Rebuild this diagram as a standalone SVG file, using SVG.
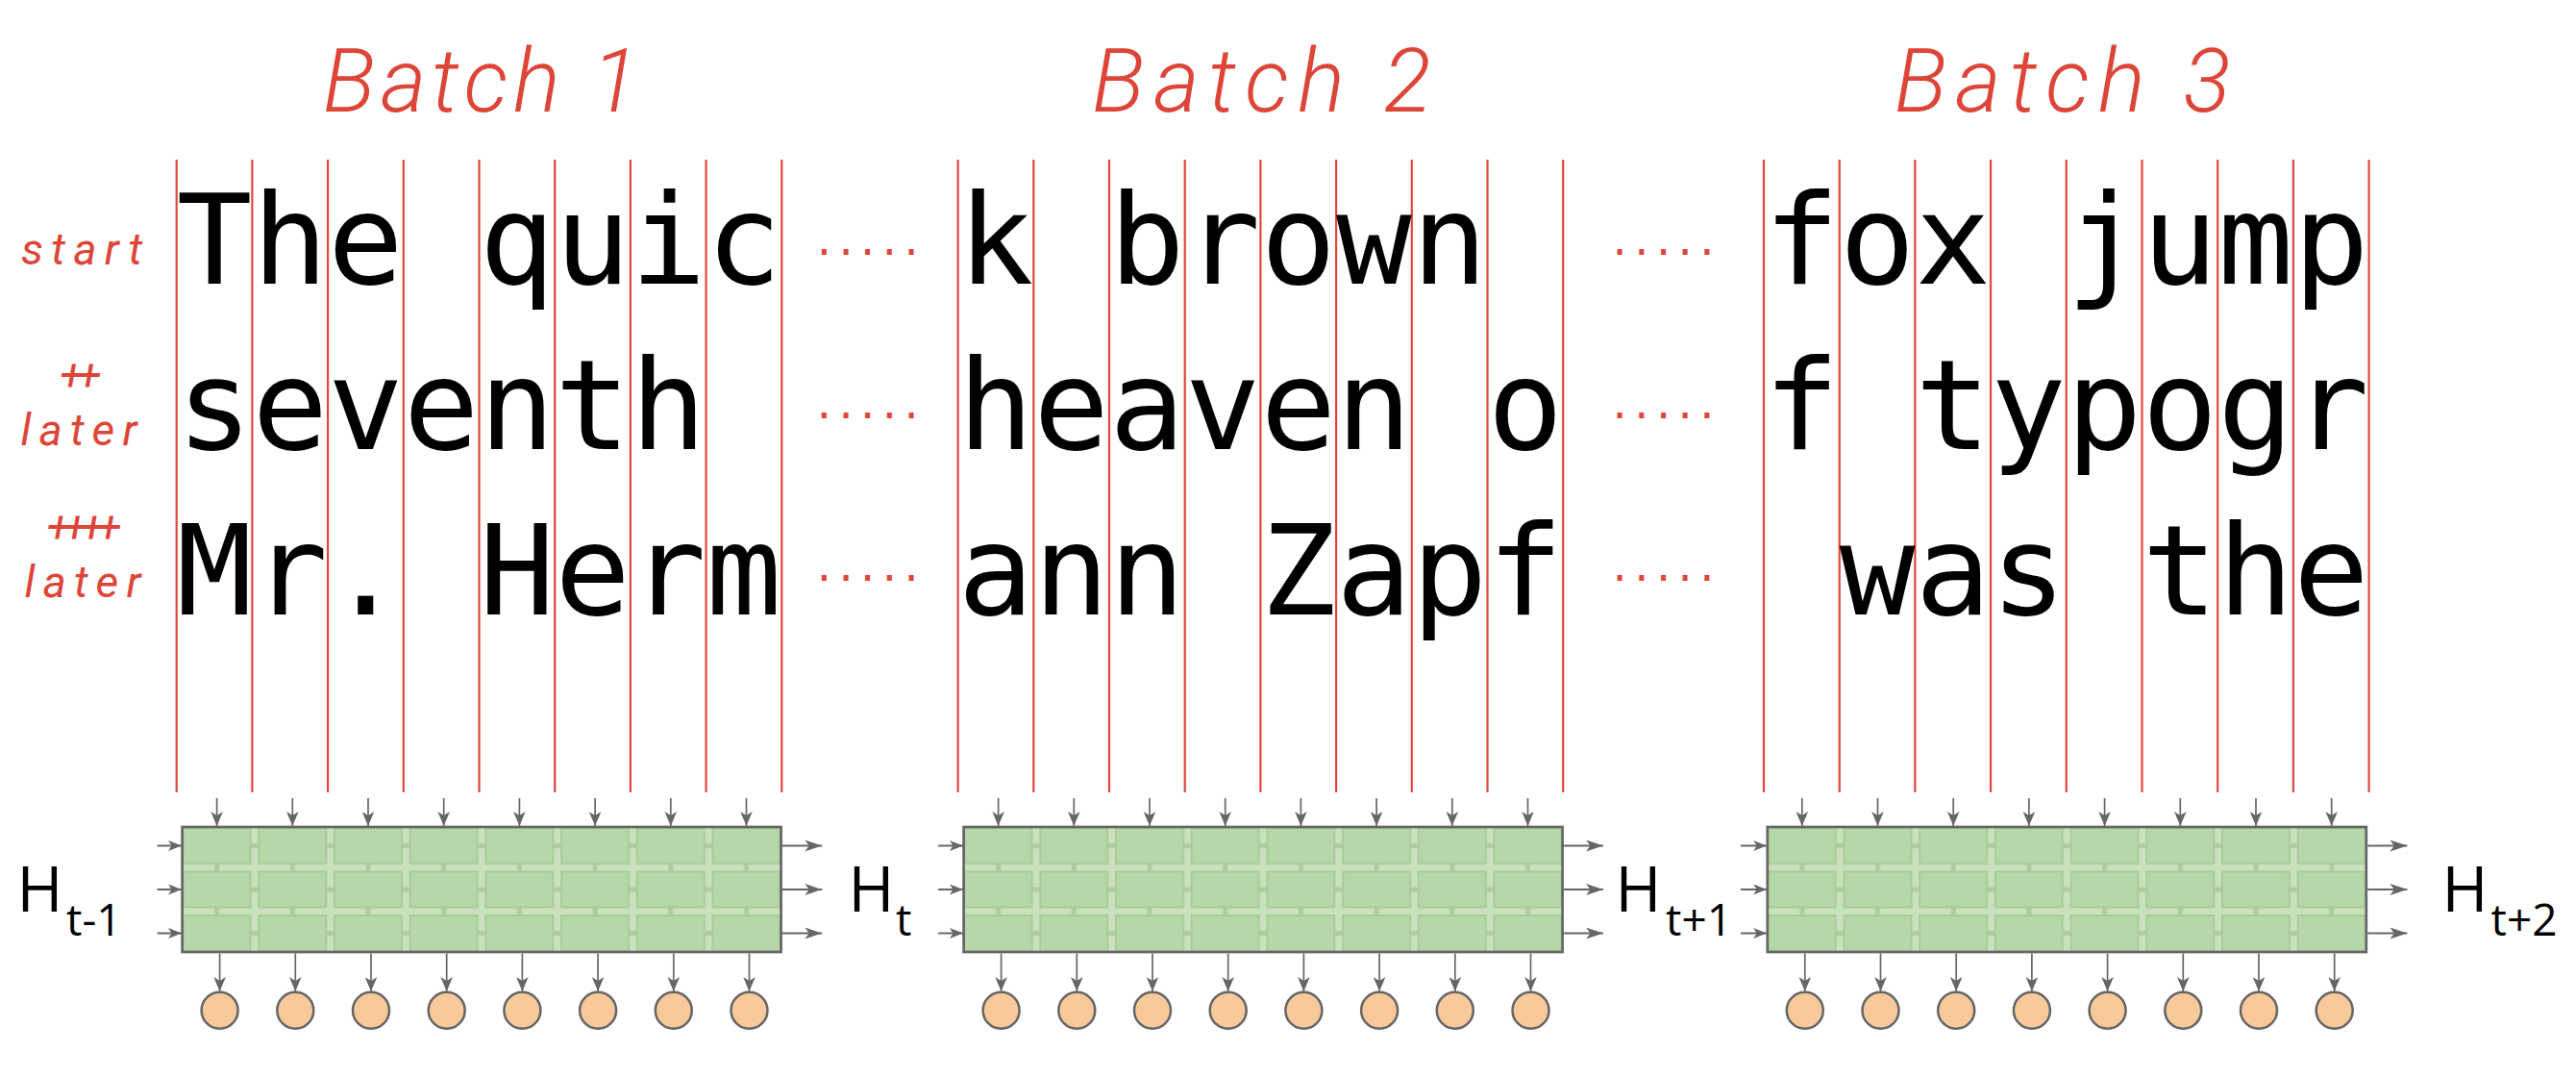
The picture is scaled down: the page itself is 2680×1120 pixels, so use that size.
<svg xmlns="http://www.w3.org/2000/svg" width="2680" height="1120" viewBox="0 0 2680 1120">
<style>
.hand{font-family:Roboto,"Liberation Sans",sans-serif;font-style:italic;font-weight:300;fill:#dd4538}
.small{font-weight:400}
.mono{font-family:"DejaVu Sans Mono","Liberation Mono",monospace;font-size:130.7px;fill:#000}
.col{stroke:#e2463c;stroke-width:2.2}
.dots{font-family:"DejaVu Sans",sans-serif;font-size:48px;fill:#e0453a;letter-spacing:7.4px}
.hl{font-family:"Open Sans","Liberation Sans",sans-serif;fill:#000}
.box{stroke:#666;stroke-width:2.7}
.out{fill:#f8c99a;stroke:#666;stroke-width:2.5}
.av{stroke:#666;stroke-width:1.7;marker-end:url(#ahs)}
.ah{stroke:#666;stroke-width:2;marker-end:url(#ahm)}
.ar{stroke:#666;stroke-width:2.2;marker-end:url(#ahl)}
</style>
<defs>
<marker id="ahs" viewBox="0 0 15 12.6" refX="15" refY="6.3" markerWidth="15" markerHeight="12.6" markerUnits="userSpaceOnUse" orient="auto"><path d="M0,0 L15,6.3 L0,12.6 L4,6.3 z" fill="#666"/></marker>
<marker id="ahm" viewBox="0 0 14 11" refX="14" refY="5.5" markerWidth="14" markerHeight="11" markerUnits="userSpaceOnUse" orient="auto"><path d="M0,0 L14,5.5 L0,11 L3.5,5.5 z" fill="#666"/></marker>
<marker id="ahl" viewBox="0 0 18 12" refX="18" refY="6" markerWidth="18" markerHeight="12" markerUnits="userSpaceOnUse" orient="auto"><path d="M0,0 L18,6 L0,12 L4.5,6 z" fill="#666"/></marker>
<pattern id="grid" patternUnits="userSpaceOnUse" x="0" y="860" width="78.7" height="45.5">
<rect width="78.7" height="45.5" fill="#c9e2bd"/>
<path d="M36,0 V45.5 M0,19.5 H78.7" stroke="#aecd9f" stroke-width="5"/>
<rect x="1" y="1" width="70" height="37" fill="#b6d7a8" stroke="#aacb9c" stroke-width="2"/>
</pattern>
<pattern id="grid1" href="#grid" x="189.6"/>
<pattern id="grid2" href="#grid" x="1002.6"/>
<pattern id="grid3" href="#grid" x="1838.8"/>
</defs>
<rect width="2680" height="1120" fill="#fff"/>

<g id="batch-labels">
<text class="hand" x="500.3" y="116" font-size="92" text-anchor="middle" textLength="329" lengthAdjust="spacing">Batch 1</text>
<text class="hand" x="1312.6" y="116" font-size="92" text-anchor="middle" textLength="353" lengthAdjust="spacing">Batch 2</text>
<text class="hand" x="2145.7" y="116" font-size="92" text-anchor="middle" textLength="350" lengthAdjust="spacing">Batch 3</text>
</g>

<g id="row-labels">
<text class="hand small" x="85" y="275" font-size="46" text-anchor="middle" textLength="126" lengthAdjust="spacing">start</text>
<text class="hand small" x="62 80" y="406" font-size="46">++</text>
<text class="hand small" x="82" y="463" font-size="46" text-anchor="middle" textLength="121" lengthAdjust="spacing">later</text>
<text class="hand small" x="48.5 66 83.5 101" y="564" font-size="46">++++</text>
<text class="hand small" x="86" y="621" font-size="46" text-anchor="middle" textLength="121" lengthAdjust="spacing">later</text>
</g>

<g id="batch1">
<path class="col" d="M183.7,166V824M262.4,166V824M341.1,166V824M419.8,166V824M498.5,166V824M577.2,166V824M655.9,166V824M734.6,166V824M813.3,166V824"/>
<text class="mono" x="183.7 262.4 341.1 419.8 498.5 577.2 655.9 734.6" y="295">The quic</text>
<text class="mono" x="183.7 262.4 341.1 419.8 498.5 577.2 655.9" y="467">seventh</text>
<text class="mono" x="183.7 262.4 341.1 419.8 498.5 577.2 655.9 734.6" y="639">Mr. Herm</text>
</g>

<g id="batch2">
<path class="col" d="M996.6,166V824M1075.3,166V824M1154,166V824M1232.7,166V824M1311.4,166V824M1390.1,166V824M1468.8,166V824M1547.5,166V824M1626.2,166V824"/>
<text class="mono" x="996.6 1075.3 1154 1232.7 1311.4 1390.1 1468.8" y="295">k brown</text>
<text class="mono" x="996.6 1075.3 1154 1232.7 1311.4 1390.1 1468.8 1547.5" y="467">heaven o</text>
<text class="mono" x="996.6 1075.3 1154 1232.7 1311.4 1390.1 1468.8 1547.5" y="639">ann Zapf</text>
</g>

<g id="batch3">
<path class="col" d="M1835,166V824M1913.7,166V824M1992.4,166V824M2071.1,166V824M2149.8,166V824M2228.5,166V824M2307.2,166V824M2385.9,166V824M2464.6,166V824"/>
<text class="mono" x="1835 1913.7 1992.4 2071.1 2149.8 2228.5 2307.2 2385.9" y="295">fox jump</text>
<text class="mono" x="1835 1913.7 1992.4 2071.1 2149.8 2228.5 2307.2 2385.9" y="467">f typogr</text>
<text class="mono" x="1913.7 1992.4 2071.1 2149.8 2228.5 2307.2 2385.9" y="639">was the</text>
</g>

<g id="ellipses">
<text class="dots" x="849.8" y="265">.....</text>
<text class="dots" x="849.8" y="435">.....</text>
<text class="dots" x="849.8" y="604">.....</text>
<text class="dots" x="1677.6" y="265">.....</text>
<text class="dots" x="1677.6" y="435">.....</text>
<text class="dots" x="1677.6" y="604">.....</text>
</g>

<g id="rnn1"><rect class="box" x="189.6" y="860" width="623" height="130" fill="url(#grid1)"/></g>
<g id="rnn2"><rect class="box" x="1002.6" y="860" width="623" height="130" fill="url(#grid2)"/></g>
<g id="rnn3"><rect class="box" x="1838.8" y="860" width="623" height="130" fill="url(#grid3)"/></g>

<g id="h-t-1"><text class="hl" x="17.6" y="948" font-size="65">H<tspan x="69" y="973" font-size="46">t-1</tspan></text></g>
<g id="h-t"><text class="hl" x="882.6" y="948" font-size="65">H<tspan x="932" y="973" font-size="46">t</tspan></text></g>
<g id="h-t1"><text class="hl" x="1680.6" y="948" font-size="65">H<tspan x="1733" y="973" font-size="46">t+1</tspan></text></g>
<g id="h-t2"><text class="hl" x="2540.6" y="948" font-size="65">H<tspan x="2591.5" y="973" font-size="46">t+2</tspan></text></g>

<g id="outputs1">
<g id="o1-1"><circle class="out" cx="228.6" cy="1050.7" r="19"/></g>
<g id="o1-2"><circle class="out" cx="307.3" cy="1050.7" r="19"/></g>
<g id="o1-3"><circle class="out" cx="386" cy="1050.7" r="19"/></g>
<g id="o1-4"><circle class="out" cx="464.7" cy="1050.7" r="19"/></g>
<g id="o1-5"><circle class="out" cx="543.4" cy="1050.7" r="19"/></g>
<g id="o1-6"><circle class="out" cx="622.1" cy="1050.7" r="19"/></g>
<g id="o1-7"><circle class="out" cx="700.8" cy="1050.7" r="19"/></g>
<g id="o1-8"><circle class="out" cx="779.5" cy="1050.7" r="19"/></g>
</g>
<g id="outputs2">
<g id="o2-1"><circle class="out" cx="1041.6" cy="1050.7" r="19"/></g>
<g id="o2-2"><circle class="out" cx="1120.3" cy="1050.7" r="19"/></g>
<g id="o2-3"><circle class="out" cx="1199" cy="1050.7" r="19"/></g>
<g id="o2-4"><circle class="out" cx="1277.7" cy="1050.7" r="19"/></g>
<g id="o2-5"><circle class="out" cx="1356.4" cy="1050.7" r="19"/></g>
<g id="o2-6"><circle class="out" cx="1435.1" cy="1050.7" r="19"/></g>
<g id="o2-7"><circle class="out" cx="1513.8" cy="1050.7" r="19"/></g>
<g id="o2-8"><circle class="out" cx="1592.5" cy="1050.7" r="19"/></g>
</g>
<g id="outputs3">
<g id="o3-1"><circle class="out" cx="1877.8" cy="1050.7" r="19"/></g>
<g id="o3-2"><circle class="out" cx="1956.5" cy="1050.7" r="19"/></g>
<g id="o3-3"><circle class="out" cx="2035.2" cy="1050.7" r="19"/></g>
<g id="o3-4"><circle class="out" cx="2113.9" cy="1050.7" r="19"/></g>
<g id="o3-5"><circle class="out" cx="2192.6" cy="1050.7" r="19"/></g>
<g id="o3-6"><circle class="out" cx="2271.3" cy="1050.7" r="19"/></g>
<g id="o3-7"><circle class="out" cx="2350" cy="1050.7" r="19"/></g>
<g id="o3-8"><circle class="out" cx="2428.7" cy="1050.7" r="19"/></g>
</g>

<g id="connectors">
<line class="av" x1="225.6" y1="830" x2="225.6" y2="859"/>
<line class="av" x1="304.3" y1="830" x2="304.3" y2="859"/>
<line class="av" x1="383" y1="830" x2="383" y2="859"/>
<line class="av" x1="461.7" y1="830" x2="461.7" y2="859"/>
<line class="av" x1="540.4" y1="830" x2="540.4" y2="859"/>
<line class="av" x1="619.1" y1="830" x2="619.1" y2="859"/>
<line class="av" x1="697.8" y1="830" x2="697.8" y2="859"/>
<line class="av" x1="776.5" y1="830" x2="776.5" y2="859"/>
<line class="av" x1="1038.6" y1="830" x2="1038.6" y2="859"/>
<line class="av" x1="1117.3" y1="830" x2="1117.3" y2="859"/>
<line class="av" x1="1196" y1="830" x2="1196" y2="859"/>
<line class="av" x1="1274.7" y1="830" x2="1274.7" y2="859"/>
<line class="av" x1="1353.4" y1="830" x2="1353.4" y2="859"/>
<line class="av" x1="1432.1" y1="830" x2="1432.1" y2="859"/>
<line class="av" x1="1510.8" y1="830" x2="1510.8" y2="859"/>
<line class="av" x1="1589.5" y1="830" x2="1589.5" y2="859"/>
<line class="av" x1="1874.8" y1="830" x2="1874.8" y2="859"/>
<line class="av" x1="1953.5" y1="830" x2="1953.5" y2="859"/>
<line class="av" x1="2032.2" y1="830" x2="2032.2" y2="859"/>
<line class="av" x1="2110.9" y1="830" x2="2110.9" y2="859"/>
<line class="av" x1="2189.6" y1="830" x2="2189.6" y2="859"/>
<line class="av" x1="2268.3" y1="830" x2="2268.3" y2="859"/>
<line class="av" x1="2347" y1="830" x2="2347" y2="859"/>
<line class="av" x1="2425.7" y1="830" x2="2425.7" y2="859"/>

<line class="av" x1="228.6" y1="991.5" x2="228.6" y2="1031"/>
<line class="av" x1="307.3" y1="991.5" x2="307.3" y2="1031"/>
<line class="av" x1="386" y1="991.5" x2="386" y2="1031"/>
<line class="av" x1="464.7" y1="991.5" x2="464.7" y2="1031"/>
<line class="av" x1="543.4" y1="991.5" x2="543.4" y2="1031"/>
<line class="av" x1="622.1" y1="991.5" x2="622.1" y2="1031"/>
<line class="av" x1="700.8" y1="991.5" x2="700.8" y2="1031"/>
<line class="av" x1="779.5" y1="991.5" x2="779.5" y2="1031"/>
<line class="av" x1="1041.6" y1="991.5" x2="1041.6" y2="1031"/>
<line class="av" x1="1120.3" y1="991.5" x2="1120.3" y2="1031"/>
<line class="av" x1="1199" y1="991.5" x2="1199" y2="1031"/>
<line class="av" x1="1277.7" y1="991.5" x2="1277.7" y2="1031"/>
<line class="av" x1="1356.4" y1="991.5" x2="1356.4" y2="1031"/>
<line class="av" x1="1435.1" y1="991.5" x2="1435.1" y2="1031"/>
<line class="av" x1="1513.8" y1="991.5" x2="1513.8" y2="1031"/>
<line class="av" x1="1592.5" y1="991.5" x2="1592.5" y2="1031"/>
<line class="av" x1="1877.8" y1="991.5" x2="1877.8" y2="1031"/>
<line class="av" x1="1956.5" y1="991.5" x2="1956.5" y2="1031"/>
<line class="av" x1="2035.2" y1="991.5" x2="2035.2" y2="1031"/>
<line class="av" x1="2113.9" y1="991.5" x2="2113.9" y2="1031"/>
<line class="av" x1="2192.6" y1="991.5" x2="2192.6" y2="1031"/>
<line class="av" x1="2271.3" y1="991.5" x2="2271.3" y2="1031"/>
<line class="av" x1="2350" y1="991.5" x2="2350" y2="1031"/>
<line class="av" x1="2428.7" y1="991.5" x2="2428.7" y2="1031"/>

<line class="ah" x1="163.6" y1="879.5" x2="189" y2="879.5"/>
<line class="ah" x1="163.6" y1="925" x2="189" y2="925"/>
<line class="ah" x1="163.6" y1="970.5" x2="189" y2="970.5"/>
<line class="ah" x1="976.2" y1="879.5" x2="1002" y2="879.5"/>
<line class="ah" x1="976.2" y1="925" x2="1002" y2="925"/>
<line class="ah" x1="976.2" y1="970.5" x2="1002" y2="970.5"/>
<line class="ah" x1="1811" y1="879.5" x2="1838.2" y2="879.5"/>
<line class="ah" x1="1811" y1="925" x2="1838.2" y2="925"/>
<line class="ah" x1="1811" y1="970.5" x2="1838.2" y2="970.5"/>

<line class="ar" x1="814" y1="879.5" x2="855.3" y2="879.5"/>
<line class="ar" x1="814" y1="925" x2="855.3" y2="925"/>
<line class="ar" x1="814" y1="970.5" x2="855.3" y2="970.5"/>
<line class="ar" x1="1627" y1="879.5" x2="1668" y2="879.5"/>
<line class="ar" x1="1627" y1="925" x2="1668" y2="925"/>
<line class="ar" x1="1627" y1="970.5" x2="1668" y2="970.5"/>
<line class="ar" x1="2463.2" y1="879.5" x2="2504.4" y2="879.5"/>
<line class="ar" x1="2463.2" y1="925" x2="2504.4" y2="925"/>
<line class="ar" x1="2463.2" y1="970.5" x2="2504.4" y2="970.5"/>
</g>
</svg>
